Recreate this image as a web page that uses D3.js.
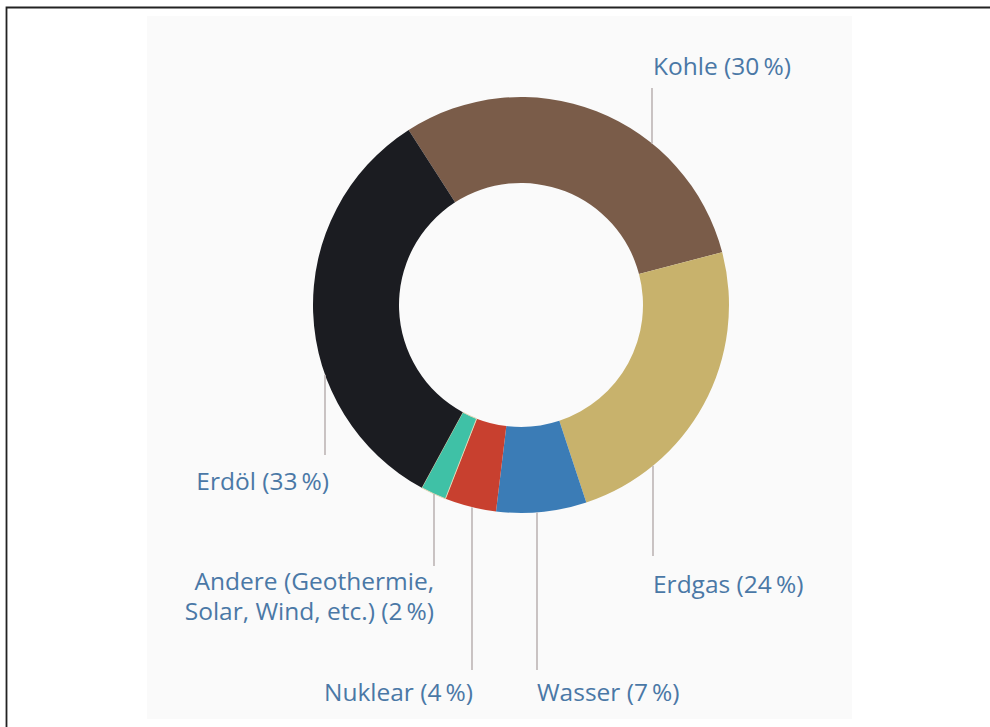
<!DOCTYPE html>
<html>
<head>
<meta charset="utf-8">
<script src="https://cdn.jsdelivr.net/npm/d3@7"></script>
<style>
  html, body { margin: 0; padding: 0; background: #fff; }
  svg { display: block; }
</style>
</head>
<body>
<div id="chart"></div>
<script>
// energy mix, share in percent
const sources = ["Kohle", "Erdgas", "Wasser", "Nuklear", "Andere", "Erdöl"];
const shares = [30, 24, 7, 4, 2, 33];
const labels = [
  ["Kohle (30\u2009%)"],
  ["Erdgas (24\u2009%)"],
  ["Wasser (7\u2009%)"],
  ["Nuklear (4\u2009%)"],
  ["Andere (Geothermie,", "Solar, Wind, etc.) (2\u2009%)"],
  ["Erdöl (33\u2009%)"]
];
const colors = ["#7a5c49", "#c8b26c", "#3b7cb6", "#c8402f", "#3fc1a6", "#1b1c21"];

// leader line placement (x of line, end y of line, text baseline, anchor)
const layout = {
  Kohle:   { x: 652, y: 88,  ty: 75,  anchor: "start", dx: 1 },
  Erdgas:  { x: 653, y: 556, ty: 593, anchor: "start", dx: 0 },
  Wasser:  { x: 537, y: 670, ty: 701, anchor: "start", dx: 0 },
  Nuklear: { x: 472, y: 670, ty: 701, anchor: "end",   dx: 1 },
  Andere:  { x: 434, y: 566, ty: 590, anchor: "end",   dx: 0 },
  "Erdöl": { x: 325, y: 455, ty: 490, anchor: "end",   dx: 4 }
};

const W = 990, H = 727;
const cx = 521, cy = 305, R = 208, r0 = 122;
const start = -32.7 * Math.PI / 180;

const svg = d3.select("#chart").append("svg")
  .attr("width", W).attr("height", H);

// frame + panel
svg.append("rect").attr("x", 147).attr("y", 16).attr("width", 705).attr("height", 703)
  .attr("fill", "#fafafa");
svg.append("path").attr("d", `M6.5,${H} V7.5 H${W}`)
  .attr("fill", "none").attr("stroke", "#222").attr("stroke-width", 1.8);

const data = sources.map((s, i) => ({ name: s, value: shares[i], color: colors[i], label: labels[i] }));

const pie = d3.pie().sort(null).value(d => d.value)
  .startAngle(start).endAngle(start + 2 * Math.PI);
const arc = d3.arc().innerRadius(r0).outerRadius(R);

const g = svg.append("g").attr("transform", `translate(${cx},${cy})`);
g.selectAll("path.slice")
  .data(pie(data))
  .enter().append("path")
  .attr("class", "slice")
  .attr("d", arc)
  .attr("fill", d => d.data.color)
  .attr("stroke", d => d.data.name === "Andere" ? "#e2d6b4" : "none")
  .attr("stroke-width", 1);

// leader lines: from the outer ring edge to the label
data.forEach(d => {
  const L = layout[d.name];
  const dx = L.x - cx;
  const h = Math.sqrt(R * R - dx * dx);
  const edgeY = L.y < cy ? cy - h : cy + h;
  svg.append("line")
    .attr("x1", L.x).attr("x2", L.x)
    .attr("y1", edgeY).attr("y2", L.y)
    .attr("stroke", "#bdb5b5").attr("stroke-width", 1.6);

  const t = svg.append("text")
    .attr("y", L.ty)
    .attr("text-anchor", L.anchor)
    .attr("font-family", "'Open Sans', 'Noto Sans', sans-serif")
    .attr("font-size", 24.5)
    .attr("fill", "#4a78a6");
  d.label.forEach((line, i) => {
    t.append("tspan").attr("x", L.x + L.dx).attr("dy", i === 0 ? 0 : 30).text(line);
  });
});
</script>
</body>
</html>
